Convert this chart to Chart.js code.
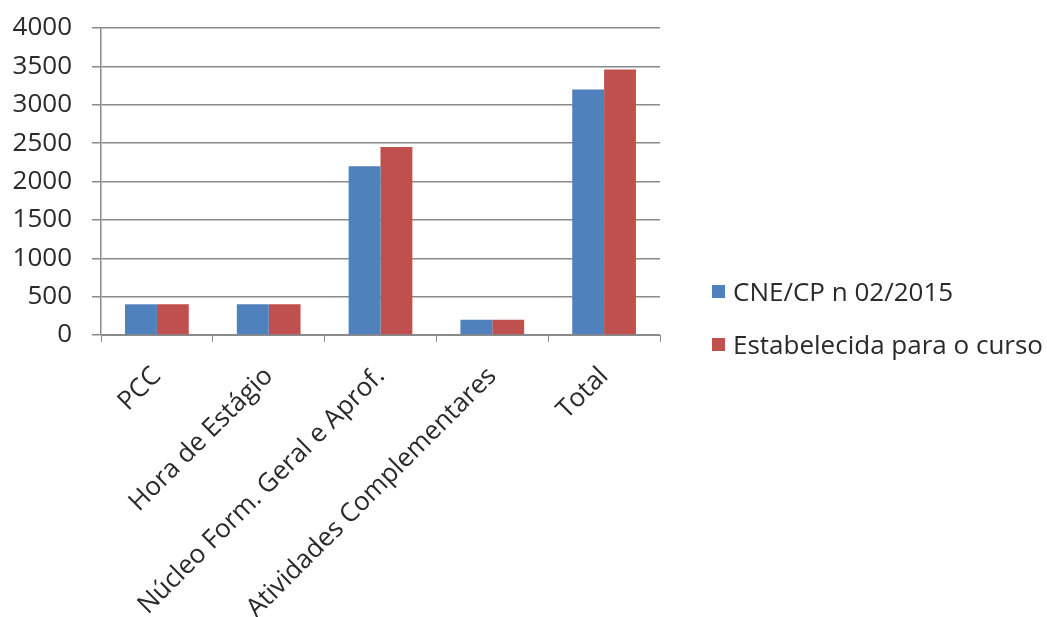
<!DOCTYPE html>
<html>
<head>
<meta charset="utf-8">
<script src="https://cdn.jsdelivr.net/npm/chart.js@4/dist/chart.umd.min.js"></script>
<style>
  html, body { margin: 0; padding: 0; background: #fff; }
  #wrap { position: relative; width: 1047px; height: 617px; }
  #legend { position: absolute; left: 712px; top: 276px; font-family: "Open Sans", sans-serif; font-size: 26px; color: #2a2a2a; }
  #legend div { display: flex; align-items: center; height: 30px; margin-bottom: 23px; }
  #legend span.sw { display: inline-block; width: 13px; height: 13px; margin-right: 8px; }
</style>
</head>
<body>
<div id="wrap">
  <canvas id="chart" width="1047" height="617"></canvas>
  <div id="legend"></div>
</div>
<script>
(function () {
  "use strict";

  const CATEGORIES = [
    "PCC",
    "Hora de Estágio",
    "Núcleo Form. Geral e Aprof.",
    "Atividades Complementares",
    "Total",
  ];
  const SERIES_NAMES = ["CNE/CP n 02/2015", "Estabelecida para o curso"];
  const CNE_VALUES = [400, 400, 2200, 200, 3200];
  const CURSO_VALUES = [400, 400, 2450, 200, 3460];
  const Y_TICKS = [0, 500, 1000, 1500, 2000, 2500, 3000, 3500, 4000];

  const COLORS = {
    blue: "#4F81BD",
    red: "#C0504D",
    grid: "#8a8a8a",
    text: "#2a2a2a",
  };

  const FONT = { family: "'Open Sans', sans-serif", size: 26 };

  new Chart(document.getElementById("chart"), {
    type: "bar",
    data: {
      labels: CATEGORIES,
      datasets: [
        { label: SERIES_NAMES[0], data: CNE_VALUES, backgroundColor: COLORS.blue },
        { label: SERIES_NAMES[1], data: CURSO_VALUES, backgroundColor: COLORS.red },
      ],
    },
    options: {
      responsive: false,
      animation: false,
      layout: { padding: { top: 28, right: 387, left: 0, bottom: 0 } },
      datasets: { bar: { categoryPercentage: 0.57, barPercentage: 1.0 } },
      plugins: { legend: { display: false }, tooltip: { enabled: false } },
      scales: {
        x: {
          grid: { drawOnChartArea: false, drawTicks: true, tickLength: 7, color: COLORS.grid, offset: true },
          border: { color: COLORS.grid, width: 1 },
          ticks: { color: COLORS.text, font: FONT, maxRotation: 45, minRotation: 45, padding: 19, autoSkip: false },
          afterFit: (s) => { s.height = 282; },
        },
        y: {
          min: 0,
          max: 4000,
          afterBuildTicks: (s) => { s.ticks = Y_TICKS.map((v) => ({ value: v })); },
          grid: { color: COLORS.grid, lineWidth: 1.5, tickLength: 9 },
          border: { color: COLORS.grid, width: 1.5 },
          ticks: { color: COLORS.text, font: FONT, padding: 20, callback: (v) => String(v) },
          // tick padding would otherwise push the plot top down
          afterFit: (s) => { s.width = 101; s.paddingTop = 0; s.paddingBottom = 0; },
        },
      },
    },
  });

  // legend as html, same colours as datasets
  const legend = document.getElementById("legend");
  [COLORS.blue, COLORS.red].forEach((c, i) => {
    const row = document.createElement("div");
    const sw = document.createElement("span");
    sw.className = "sw";
    sw.style.background = c;
    row.appendChild(sw);
    row.appendChild(document.createTextNode(SERIES_NAMES[i]));
    legend.appendChild(row);
  });
})();
</script>
</body>
</html>
